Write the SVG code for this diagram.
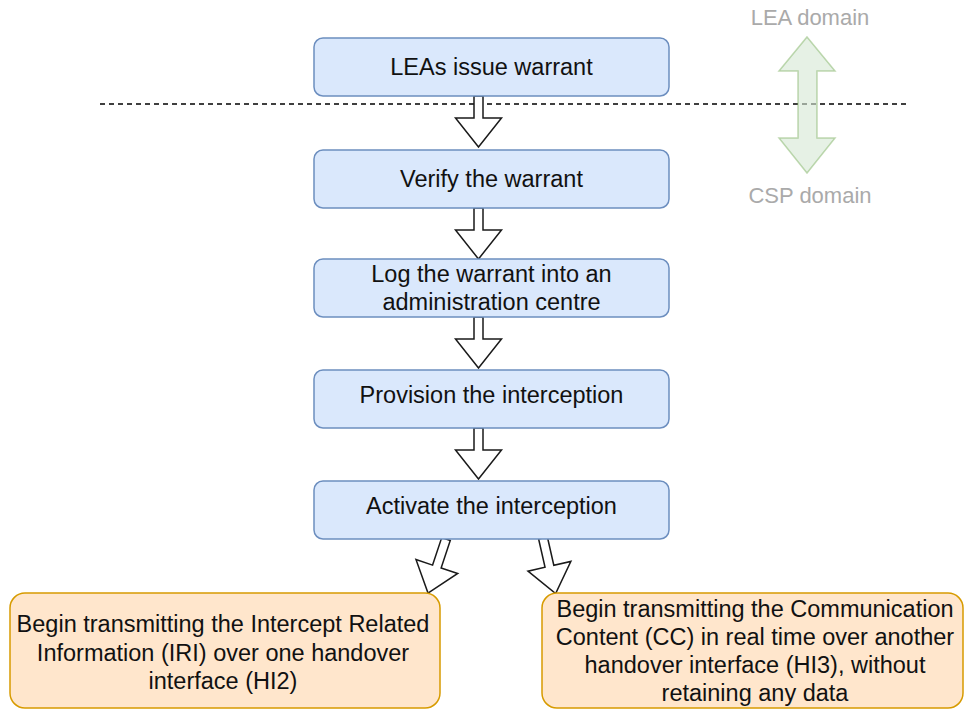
<svg xmlns="http://www.w3.org/2000/svg" width="964" height="710" viewBox="0 0 964 710">
  <style>
    .step rect { fill: #dae8fc; stroke: #6c8ebf; stroke-width: 1.5; }
    .out rect { fill: #ffe6cc; stroke: #d79b00; stroke-width: 1.5; }
    text { font-family: "Liberation Sans", Arial, sans-serif; font-size: 23.5px; fill: #111111; text-anchor: middle; }
    .domain { fill: #aaaaaa; font-size: 22px; }
    .flow { fill: #ffffff; stroke: #1a1a1a; stroke-width: 1.5; stroke-linejoin: miter; }
  </style>
  <defs>
    <!-- block arrow pointing down, origin at shaft start -->
    <polygon id="down50" points="-4.5,0 4.5,0 4.5,22 23,22 0,51 -23,22 -4.5,22"/>
    <polygon id="down57" points="-4.5,0 4.5,0 4.5,29 22,29 0,57 -22,29 -4.5,29"/>
  </defs>
  <rect width="964" height="710" fill="#ffffff"/>

  <!-- boundary between domains -->
  <line x1="100" y1="104" x2="906" y2="104" stroke="#000" stroke-width="1.5" stroke-dasharray="5,4"/>

  <!-- domain indicator -->
  <g id="domains">
    <polygon points="807,37 835,71 817,71 817,138 835,138 807,173 779,138 798,138 798,71 779,71" fill="#d5e8d4" fill-opacity="0.6" stroke="#82b366" stroke-opacity="0.5" stroke-width="1.5"/>
    <text class="domain" x="810" y="25">LEA domain</text>
    <text class="domain" x="810" y="203">CSP domain</text>
  </g>

  <g id="connectors">
    <use href="#down50" class="flow" transform="translate(478.5,96)"/>
    <use href="#down50" class="flow" transform="translate(478.5,208)"/>
    <use href="#down50" class="flow" transform="translate(478.5,317)"/>
    <use href="#down50" class="flow" transform="translate(478.5,428)"/>
    <use href="#down57" class="flow" transform="translate(446,539) rotate(18.4)"/>
    <use href="#down57" class="flow" transform="translate(543,538) rotate(-12.8)"/>
  </g>

  <g id="issue" class="step">
    <rect x="314" y="38" width="355" height="58" rx="9"/>
    <text x="491.5" y="75">LEAs issue warrant</text>
  </g>
  <g id="verify" class="step">
    <rect x="314" y="150" width="355" height="58" rx="9"/>
    <text x="491.5" y="187">Verify the warrant</text>
  </g>
  <g id="log" class="step">
    <rect x="314" y="259" width="355" height="58" rx="9"/>
    <text x="491.5" y="282">Log the warrant into an</text>
    <text x="491.5" y="310">administration centre</text>
  </g>
  <g id="provision" class="step">
    <rect x="314" y="370" width="355" height="58" rx="9"/>
    <text x="491.5" y="403">Provision the interception</text>
  </g>
  <g id="activate" class="step">
    <rect x="314" y="481" width="355" height="58" rx="9"/>
    <text x="491.5" y="514">Activate the interception</text>
  </g>

  <g id="iri" class="out">
    <rect x="10" y="593" width="430" height="115" rx="15"/>
    <text x="223" y="632">Begin transmitting the Intercept Related</text>
    <text x="223" y="661">Information (IRI) over one handover</text>
    <text x="223" y="689">interface (HI2)</text>
  </g>
  <g id="cc" class="out">
    <rect x="542" y="593" width="421" height="115" rx="15"/>
    <text x="755" y="617">Begin transmitting the Communication</text>
    <text x="755" y="645">Content (CC) in real time over another</text>
    <text x="755" y="673">handover interface (HI3), without</text>
    <text x="755" y="701">retaining any data</text>
  </g>
</svg>
